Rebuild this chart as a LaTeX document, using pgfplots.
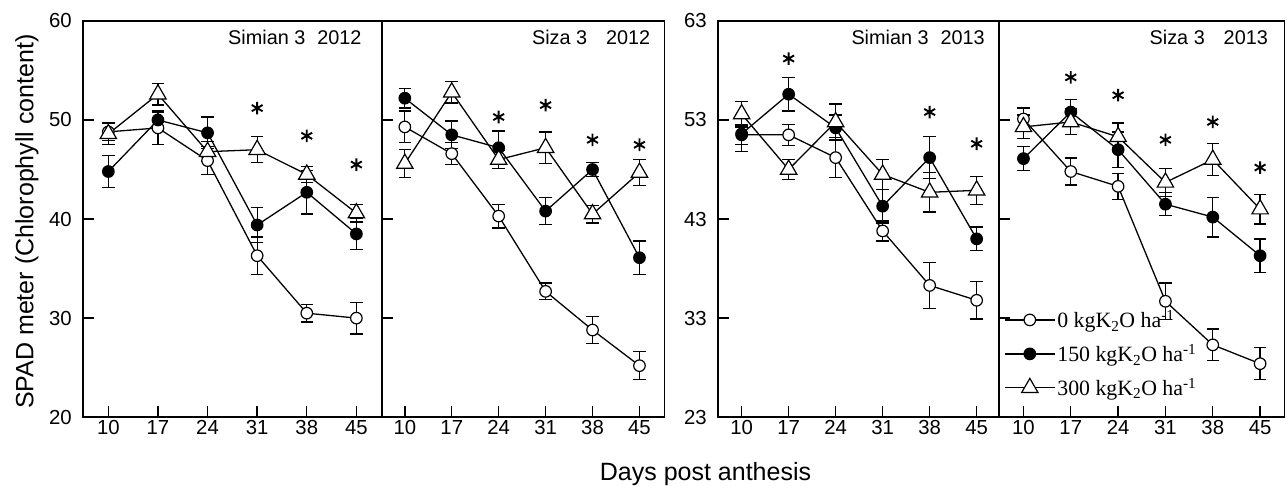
\documentclass[border=0pt]{standalone}
\usepackage{pgfplots}
\pgfplotsset{compat=1.18}
\usepackage{fontspec}
\setmainfont{Liberation Sans}
\newfontfamily\legfont{Liberation Serif}
\begin{document}
\tikzset{ttl/.style={anchor=base east, font=\fontsize{20}{20}\selectfont}}
\pgfplotsset{
  panel/.style={
    scale only axis, height=398bp,
    xtick={10,17,24,31,38,45},
    tick align=inside, major tick length=11bp,
    xtick pos=bottom, ytick pos=left,
    axis line style={line width=1.6bp},
    every tick/.append style={line width=1.4bp, black},
    tick label style={font=\fontsize{20.5}{20.5}\selectfont},
    /pgf/number format/assume math mode=true,
    yticklabel shift=8bp,
    clip=false,
  },
  eb/.style={error bars/y dir=both, error bars/y explicit,
    error bars/error bar style={line width=1.3bp, black},
    error bars/error mark options={rotate=90, mark size=6.3bp, line width=1.3bp, black}},
  s0/.style={black, line width=1.3bp, mark=*, mark size=5.8bp,
    mark options={fill=white, draw=black, line width=1.2bp}, eb},
  s1/.style={black, line width=1.3bp, mark=*, mark size=5.8bp,
    mark options={fill=black, draw=black, line width=1.2bp}, eb},
  s2/.style={black, line width=1.3bp, mark=triangle*, mark size=9.5bp,
    mark options={fill=white, draw=black, line width=1.2bp}, eb},
  ast/.style={only marks, mark=asterisk, mark size=6.3bp, mark options={line width=1.9bp, black}},
}
\begin{tikzpicture}
\path[use as bounding box] (0,0) rectangle (1287bp,488bp);

% Panel 1: Simian 3 2012
\begin{axis}[panel, at={(78bp,69bp)}, anchor=south west, width=300bp,
  xmin=6.45, xmax=48.6, ymin=20, ymax=60, ytick={20,30,40,50,60}]
\addplot[s0] coordinates {(10,48.8) +- (0,0.9) (17,49.2) +- (0,1.7) (24,45.9) +- (0,1.4) (31,36.3) +- (0,1.9) (38,30.5) +- (0,0.9) (45,30.0) +- (0,1.6)};
\addplot[s1] coordinates {(10,44.8) +- (0,1.65) (17,50.0) +- (0,0.8) (24,48.7) +- (0,1.6) (31,39.4) +- (0,1.8) (38,42.7) +- (0,2.2) (45,38.5) +- (0,1.6)};
\addplot[s2] coordinates {(10,48.6) +- (0,1.1) (17,52.6) +- (0,1.1) (24,46.8) +- (0,1.0) (31,47.0) +- (0,1.3) (38,44.5) +- (0,0.8) (45,40.6) +- (0,0.9)};
\addplot[ast] coordinates {(31,51.2) (38,48.4) (45,45.5)};
\node[ttl, xshift=-17bp, yshift=-24bp] at (rel axis cs:1,1) {Simian 3\hspace{12bp}2012};
\end{axis}

% Panel 2: Siza 3 2012
\begin{axis}[panel, at={(378bp,69bp)}, anchor=south west, width=284bp,
  xmin=6.58, xmax=48.76, ymin=20, ymax=60, ytick={20,30,40,50,60}, yticklabels={}]
\addplot[s0] coordinates {(10,49.3) +- (0,1.6) (17,46.6) +- (0,1.1) (24,40.3) +- (0,1.2) (31,32.7) +- (0,0.85) (38,28.8) +- (0,1.35) (45,25.2) +- (0,1.4)};
\addplot[s1] coordinates {(10,52.2) +- (0,1.0) (17,48.5) +- (0,1.4) (24,47.2) +- (0,1.7) (31,40.8) +- (0,1.35) (38,45.0) +- (0,0.7) (45,36.1) +- (0,1.7)};
\addplot[s2] coordinates {(10,45.6) +- (0,1.4) (17,52.8) +- (0,1.1) (24,46.0) +- (0,0.9) (31,47.2) +- (0,1.6) (38,40.5) +- (0,0.9) (45,44.7) +- (0,1.3)};
\addplot[ast] coordinates {(24,50.3) (31,51.5) (38,48.0) (45,47.5)};
\node[ttl, xshift=-11bp, yshift=-24bp] at (rel axis cs:1,1) {Siza 3\hspace{19bp}2012};
\end{axis}

% Panel 3: Simian 3 2013
\begin{axis}[panel, at={(715.7bp,69bp)}, anchor=south west, width=282bp,
  xmin=6.5, xmax=48.32, ymin=23, ymax=63, ytick={23,33,43,53,63}]
\addplot[s0] coordinates {(10,51.5) +- (0,1.0) (17,51.5) +- (0,1.05) (24,49.2) +- (0,2.0) (31,41.8) +- (0,1.0) (38,36.3) +- (0,2.3) (45,34.8) +- (0,1.9)};
\addplot[s1] coordinates {(10,51.6) +- (0,1.8) (17,55.6) +- (0,1.7) (24,52.2) +- (0,1.3) (31,44.3) +- (0,1.7) (38,49.2) +- (0,2.1) (45,41.0) +- (0,1.2)};
\addplot[s2] coordinates {(10,53.6) +- (0,1.3) (17,48.0) +- (0,1.0) (24,52.8) +- (0,1.8) (31,47.5) +- (0,1.5) (38,45.7) +- (0,2.0) (45,45.9) +- (0,1.4)};
\addplot[ast] coordinates {(17,59.2) (38,53.8) (45,50.6)};
\node[ttl, xshift=-10.7bp, yshift=-24bp] at (rel axis cs:1,1) {Simian 3\hspace{12bp}2013};
\end{axis}

% Panel 4: Siza 3 2013
\begin{axis}[panel, at={(998bp,69bp)}, anchor=south west, width=286.3bp,
  xmin=6.42, xmax=48.58, ymin=23, ymax=63, ytick={23,33,43,53,63}, yticklabels={},
  legend cell align=left,
  legend style={draw=none, fill=none, at={(0.017,0.275)}, anchor=north west,
    font=\legfont\fontsize{22}{24}\selectfont, row sep=11bp, inner sep=0pt},
  legend image code/.code={\draw[mark repeat=2,mark phase=2,#1] plot coordinates {(0bp,0bp) (25bp,0bp) (50bp,0bp)};}]
\addplot[s0] coordinates {(10,53.1) +- (0,1.1) (17,47.8) +- (0,1.35) (24,46.3) +- (0,1.3) (31,34.7) +- (0,1.85) (38,30.3) +- (0,1.6) (45,28.4) +- (0,1.6)};
\addlegendentry{0 kgK\textsubscript{2}O ha\textsuperscript{-1}}
\addplot[s1] coordinates {(10,49.1) +- (0,1.2) (17,53.8) +- (0,1.3) (24,50.0) +- (0,1.8) (31,44.5) +- (0,1.15) (38,43.2) +- (0,2.0) (45,39.3) +- (0,1.7)};
\addlegendentry{150 kgK\textsubscript{2}O ha\textsuperscript{-1}}
\addplot[s2] coordinates {(10,52.3) +- (0,1.2) (17,52.8) +- (0,1.3) (24,51.3) +- (0,1.4) (31,46.7) +- (0,1.4) (38,49.0) +- (0,1.6) (45,44.0) +- (0,1.5)};
\addlegendentry{300 kgK\textsubscript{2}O ha\textsuperscript{-1}}
\addplot[ast, forget plot] coordinates {(17,57.3) (24,55.5) (31,51.0) (38,52.8) (45,48.2)};
\node[ttl, xshift=-13bp, yshift=-24bp] at (rel axis cs:1,1) {Siza 3\hspace{19bp}2013};
\end{axis}

\node[anchor=base, font=\fontsize{25.2}{26}\selectfont] at (703bp,5.3bp) {Days post anthesis};
\node[anchor=base, rotate=90, font=\fontsize{25.2}{26}\selectfont] at (28bp,265.5bp) {SPAD meter (Chlorophyll content)};
\end{tikzpicture}
\end{document}
